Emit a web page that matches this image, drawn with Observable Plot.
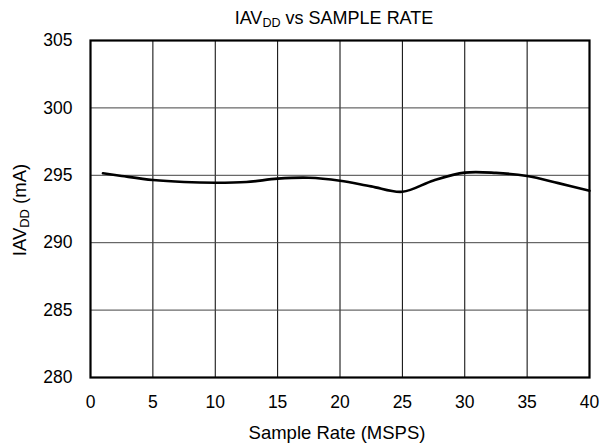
<!DOCTYPE html>
<html>
<head>
<meta charset="utf-8">
<script src="https://cdn.jsdelivr.net/npm/d3@7"></script>
<script src="https://cdn.jsdelivr.net/npm/@observablehq/plot@0.6"></script>
<style>
  html, body { margin: 0; padding: 0; background: #fff; }
  #chart { position: relative; width: 604px; height: 443px; font-family: "Liberation Sans", Arial, sans-serif; color: #000; }
  #title { height: 30px; width: 604px; box-sizing: border-box; padding-left: 80px; padding-right: 16px; text-align: center; font-size: 18px; line-height: 37px; overflow: visible; white-space: nowrap; }
  #ylabel { position: absolute; left: 20px; top: 210px; transform: translate(-50%, -50%) rotate(-90deg); white-space: nowrap; font-size: 18.5px; }
  sub { font-size: 0.7em; vertical-align: -0.25em; line-height: 0; }
</style>
</head>
<body>
<div id="chart">
  <div id="title">IAV<sub>DD</sub> vs SAMPLE RATE</div>
  <div id="ylabel">IAV<sub>DD</sub> (mA)</div>
</div>
<script>
// Supply current versus sample rate
const sampleRate = [1, 2.5, 5, 7.5, 10, 12.5, 15, 17.5, 20, 22.5, 25, 27.5, 30, 32.5, 35, 37.5, 40];
const iavdd = [295.15, 294.95, 294.65, 294.5, 294.45, 294.5, 294.75, 294.82, 294.6, 294.18, 293.78, 294.62, 295.2, 295.18, 294.95, 294.42, 293.85];

const xTicks = [0, 5, 10, 15, 20, 25, 30, 35, 40];
const yTicks = [280, 285, 290, 295, 300, 305];

const data = sampleRate.map((x, i) => ({x, y: iavdd[i]}));

const chart = Plot.plot({
  width: 604,
  height: 413,
  marginTop: 10,
  marginBottom: 66,
  marginLeft: 90,
  marginRight: 15,
  style: {fontFamily: "'Liberation Sans', Arial, sans-serif", fontSize: "17.5px", color: "#000", background: "#fff"},
  x: {domain: [0, 40], ticks: xTicks, tickSize: 0, tickPadding: 18, label: null},
  y: {domain: [280, 305], ticks: yTicks, tickSize: 0, tickPadding: 18, label: null},
  marks: [
    Plot.ruleX(xTicks, {stroke: "#000", strokeWidth: 1}),
    Plot.ruleY(yTicks, {stroke: "#444", strokeWidth: 1}),
    Plot.line(data, {x: "x", y: "y", stroke: "#000", strokeWidth: 2.6, curve: "catmull-rom"}),
    Plot.frame({stroke: "#000", strokeWidth: 2.2}),
    Plot.text(["Sample Rate (MSPS)"], {
      frameAnchor: "bottom", dy: 56, dx: -3, text: d => d,
      fontSize: 18.5, fill: "#000", lineAnchor: "middle"
    })
  ]
});
document.getElementById("chart").appendChild(chart);
</script>
</body>
</html>
